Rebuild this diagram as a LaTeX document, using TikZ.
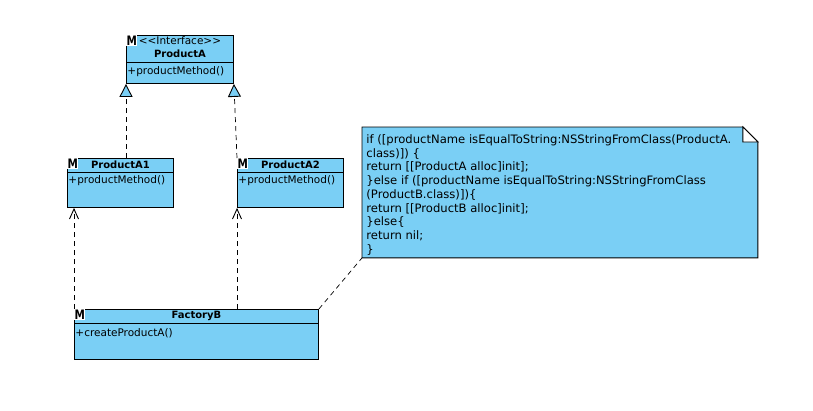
\documentclass[tikz,border=0pt]{standalone}
\usepackage{fontspec}
\setmainfont{DejaVu Sans}
\usetikzlibrary{arrows.meta}
\definecolor{umlblue}{RGB}{122,207,245}
\tikzset{
  umlclass/.style={draw, fill=umlblue, anchor=north west, inner sep=0pt},
  icon/.style={anchor=north west, fill=white, inner sep=0.4pt, xscale=0.8,
    font=\bfseries\fontsize{13}{13}\selectfont},
  title/.style={inner sep=0pt, font=\bfseries\fontsize{10}{12}\selectfont},
  member/.style={anchor=west, inner sep=0pt, font=\fontsize{10.5}{12}\selectfont},
  dep/.style={line width=0.7pt, dash pattern=on 5pt off 4pt},
  realize/.style={dep, -{Triangle[length=13pt, width=13pt, fill=umlblue, line width=0.9pt]}},
  uses/.style={dep, -{Straight Barb[length=10pt, width=9pt, line width=0.9pt]}}
}
\begin{document}
\begin{tikzpicture}[x=1pt, y=-1pt, line width=0.9pt]
  \useasboundingbox (0,0) rectangle (813,410);

  \node[umlclass, minimum width=107pt, minimum height=48pt] (pa) at (126,35) {};
  \draw ([yshift=-27pt]pa.north west) -- ([yshift=-27pt]pa.north east);
  \node[icon] at (pa.north west) {M};
  \node[member, anchor=center] at ([yshift=-6pt]pa.north) {<{}<Interface>{}>};
  \node[title] at ([yshift=-19pt]pa.north) {ProductA};
  \node[member] at ([xshift=1pt, yshift=-37pt]pa.north west) {+productMethod()};

  \node[umlclass, minimum width=106pt, minimum height=49pt] (a1) at (67,158) {};
  \draw ([yshift=-14pt]a1.north west) -- ([yshift=-14pt]a1.north east);
  \node[icon] at (a1.north west) {M};
  \node[title] at ([yshift=-7pt]a1.north) {ProductA1};
  \node[member] at ([xshift=1pt, yshift=-23pt]a1.north west) {+productMethod()};

  \node[umlclass, minimum width=106pt, minimum height=49pt] (a2) at (237,158) {};
  \draw ([yshift=-14pt]a2.north west) -- ([yshift=-14pt]a2.north east);
  \node[icon] at (a2.north west) {M};
  \node[title] at ([yshift=-7pt]a2.north) {ProductA2};
  \node[member] at ([xshift=1pt, yshift=-23pt]a2.north west) {+productMethod()};

  \node[umlclass, minimum width=244pt, minimum height=50pt] (fb) at (74,309) {};
  \draw ([yshift=-14pt]fb.north west) -- ([yshift=-14pt]fb.north east);
  \node[icon] at (fb.north west) {M};
  \node[title] at ([yshift=-7pt]fb.north) {FactoryB};
  \node[member] at ([xshift=1pt, yshift=-24pt]fb.north west) {+createProductA()};

  \node[anchor=north west, inner sep=0pt, minimum width=395pt, minimum height=130pt] (note) at (362,127) {};
  \draw[fill=umlblue] (note.south west) -- (note.north west) -- ([xshift=-15pt]note.north east)
    -- ([yshift=-15pt]note.north east) -- (note.south east) -- cycle;
  \draw[fill=white] ([xshift=-15pt]note.north east) |- ([yshift=-15pt]note.north east) -- cycle;
  \node[anchor=north west, inner sep=0pt, align=left, font=\fontsize{11.6}{13.75}\selectfont] (code)
    at ([xshift=4pt, yshift=-7pt]note.north west)
    {if ([productName isEqualToString:NSStringFromClass(ProductA.\\
     class)]) \{\\
     return [[ProductA alloc]init];\\
     \}else if ([productName isEqualToString:NSStringFromClass\\
     (ProductB.class)])\{\\
     return [[ProductB alloc]init];\\
     \}else\{\\
     return nil;\\
     \}};

  \draw[realize] ([xshift=59pt]a1.north west) -- (pa.south west);
  \draw[realize] (a2.north west) -- (pa.south east);
  \draw[uses] (fb.north west) -- ([xshift=7pt]a1.south west);
  \draw[uses] ([xshift=163pt]fb.north west) -- (a2.south west);
  \draw[dep] (fb.north east) -- (note.south west);
\end{tikzpicture}
\end{document}
